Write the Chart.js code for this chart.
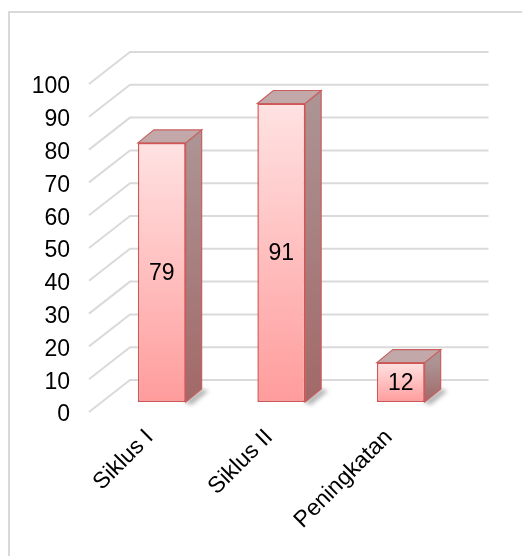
<!DOCTYPE html>
<html>
<head>
<meta charset="utf-8">
<script src="https://cdn.jsdelivr.net/npm/chart.js@4/dist/chart.umd.min.js"></script>
<style>
  html, body { margin: 0; padding: 0; background: #ffffff; }
  #wrap { width: 522px; height: 556px; position: relative; }
</style>
</head>
<body>
<div id="wrap"><canvas id="c" width="522" height="556"></canvas></div>
<script>
// Chart data
const categories = ['Siklus I', 'Siklus II', 'Peningkatan'];
const values = [79, 91, 12];
const yTickValues = [0, 10, 20, 30, 40, 50, 60, 70, 80, 90, 100];

// Pseudo-3D geometry (pixels, relative to the plane the bars stand in)
const FRONT = { dx: -13, dy: 10 };   // front edge of the floor / labels
const BACK = { dx: 28, dy: -22 };    // back wall
const BAR_DEPTH = { dx: 16, dy: -13 };
const FONT = '"Liberation Sans", Arial, sans-serif';

function frontGradient(ctx, top, base) {
  const g = ctx.createLinearGradient(0, top, 0, base);
  g.addColorStop(0, '#ffe2e2');
  g.addColorStop(1, '#ff9c9c');
  return g;
}

const depthPlugin = {
  id: 'depthPlugin',
  beforeDraw(chart) {
    const ctx = chart.ctx;
    ctx.save();
    ctx.strokeStyle = '#d9d9d9';
    ctx.lineWidth = 2;
    ctx.strokeRect(9, 12, 700, 700);
    ctx.restore();
  },
  beforeDatasetsDraw(chart) {
    const { ctx, chartArea: a, scales: { y } } = chart;
    ctx.save();
    // wall gridlines: diagonal on the side wall, horizontal on the back wall
    ctx.strokeStyle = '#dadada';
    ctx.lineWidth = 2;
    yTickValues.forEach(v => {
      const p = y.getPixelForValue(v);
      ctx.beginPath();
      ctx.moveTo(a.left + FRONT.dx, p + FRONT.dy);
      ctx.lineTo(a.left + BACK.dx, p + BACK.dy);
      ctx.lineTo(a.right + BACK.dx, p + BACK.dy);
      ctx.stroke();
    });

    const meta = chart.getDatasetMeta(0);
    const dx = BAR_DEPTH.dx, dy = BAR_DEPTH.dy;
    meta.data.forEach(bar => {
      const { x, y: top, base, width } = bar.getProps(['x', 'y', 'base', 'width'], true);
      const l = x - width / 2, r = x + width / 2;

      // soft floor shadow
      ctx.save();
      ctx.filter = 'blur(2px)';
      ctx.fillStyle = 'rgba(90,90,90,0.45)';
      ctx.beginPath();
      ctx.moveTo(r - 2, base);
      ctx.lineTo(r + dx, base + dy);
      ctx.lineTo(r + dx + 7, base + dy + 2);
      ctx.lineTo(r + 6, base + 3);
      ctx.closePath();
      ctx.fill();
      ctx.restore();

      // right side face
      const sg = ctx.createLinearGradient(0, top, 0, base);
      sg.addColorStop(0, '#ad9393');
      sg.addColorStop(1, '#a26868');
      ctx.fillStyle = sg;
      ctx.strokeStyle = '#c86060';
      ctx.lineWidth = 1.2;
      ctx.beginPath();
      ctx.moveTo(r, top);
      ctx.lineTo(r + dx, top + dy);
      ctx.lineTo(r + dx, base + dy);
      ctx.lineTo(r, base);
      ctx.closePath();
      ctx.fill();
      ctx.stroke();

      // top face
      ctx.fillStyle = '#c2a8a8';
      ctx.beginPath();
      ctx.moveTo(l, top);
      ctx.lineTo(l + dx, top + dy);
      ctx.lineTo(r + dx, top + dy);
      ctx.lineTo(r, top);
      ctx.closePath();
      ctx.fill();
      ctx.stroke();
    });
    ctx.restore();
  },
  afterDatasetsDraw(chart) {
    const { ctx } = chart;
    const meta = chart.getDatasetMeta(0);
    ctx.save();
    ctx.fillStyle = '#000000';
    ctx.font = '23px ' + FONT;
    ctx.textAlign = 'center';
    ctx.textBaseline = 'middle';
    meta.data.forEach((bar, i) => {
      const { x, y: top, base } = bar.getProps(['x', 'y', 'base'], true);
      ctx.fillText(String(values[i]), x, (top + base) / 2 + 1);
    });
    ctx.restore();
  }
};

new Chart(document.getElementById('c'), {
  type: 'bar',
  data: {
    labels: categories,
    datasets: [{
      data: values,
      backgroundColor: (context) => {
        const chart = context.chart;
        const y = chart.scales && chart.scales.y;
        if (!chart.chartArea || !y || context.parsed == null) return '#ffc0c0';
        const top = y.getPixelForValue(context.parsed.y);
        const base = y.getPixelForValue(0);
        return frontGradient(chart.ctx, top, base);
      },
      borderColor: '#d05555',
      borderWidth: 1.5,
      borderSkipped: false,
      barPercentage: 0.4,
      categoryPercentage: 1.0
    }]
  },
  options: {
    responsive: false,
    devicePixelRatio: 1,
    animation: false,
    layout: { padding: { left: 0, top: 74, right: 61.5, bottom: 0 } },
    plugins: { legend: { display: false }, tooltip: { enabled: false } },
    scales: {
      x: {
        grid: { display: false, drawTicks: false },
        border: { display: false },
        ticks: {
          autoSkip: false,
          minRotation: 45,
          maxRotation: 45,
          padding: 22,
          labelOffset: -12,
          color: '#000000',
          font: { family: FONT, size: 23 }
        },
        afterFit(scale) { scale.height = 154; }
      },
      y: {
        min: 0,
        max: 100,
        grid: { display: false, drawTicks: false },
        border: { display: false },
        ticks: {
          stepSize: 10,
          padding: 32,
          labelOffset: 13,
          color: '#000000',
          font: { family: FONT, size: 23 },
          callback: (v) => v
        },
        afterFit(scale) { scale.width = 102; }
      }
    }
  },
  plugins: [depthPlugin]
});
</script>
</body>
</html>
